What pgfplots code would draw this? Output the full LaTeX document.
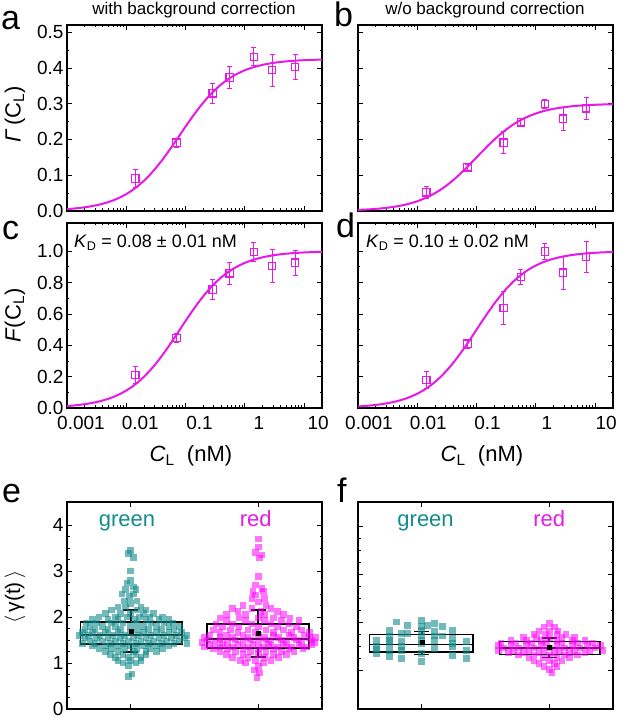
\documentclass[border=0pt]{standalone}
\usepackage{pgfplots}
\pgfplotsset{compat=1.18}
\usepackage{pgfplotstable}
\usepackage{fontspec}
\setmainfont{Liberation Sans}
\definecolor{mag}{RGB}{230,25,230}
\definecolor{magpt}{RGB}{255,0,255}
\definecolor{tealc}{RGB}{20,140,140}
\newcommand\fs[1]{\fontsize{#1}{#1}\selectfont}

\pgfplotstableread{
C ga gb fc fd
0.001 0.00525 0.00297 0.01235 0.00990
0.0012589 0.00658 0.00373 0.01549 0.01243
0.0015849 0.00826 0.00468 0.01943 0.01560
0.0019953 0.01034 0.00587 0.02433 0.01956
0.0025119 0.01294 0.00735 0.03044 0.02450
0.0031623 0.01616 0.00920 0.03803 0.03065
0.0039811 0.02015 0.01149 0.04740 0.03829
0.0050119 0.02506 0.01432 0.05896 0.04773
0.0063096 0.03107 0.01781 0.07310 0.05935
0.0079433 0.03839 0.02208 0.09032 0.07359
0.01 0.04722 0.02727 0.11111 0.09091
0.012589 0.05779 0.03354 0.13597 0.11181
0.015849 0.07027 0.04104 0.16535 0.13681
0.019953 0.08484 0.04990 0.19962 0.16634
0.025119 0.10156 0.06023 0.23896 0.20076
0.031623 0.12040 0.07208 0.28330 0.24025
0.039811 0.14122 0.08543 0.33228 0.28475
0.050119 0.16370 0.10016 0.38518 0.33386
0.063096 0.18740 0.11606 0.44093 0.38687
0.079433 0.21174 0.13281 0.49822 0.44269
0.1 0.23611 0.15000 0.55556 0.50000
0.12589 0.25987 0.16719 0.61145 0.55731
0.15849 0.28244 0.18394 0.66456 0.61313
0.19953 0.30337 0.19984 0.71380 0.66614
0.25119 0.32234 0.21458 0.75845 0.71525
0.31623 0.33919 0.22793 0.79810 0.75975
0.39811 0.35388 0.23977 0.83267 0.79924
0.50119 0.36650 0.25010 0.86235 0.83366
0.63096 0.37718 0.25896 0.88748 0.86319
0.79433 0.38611 0.26645 0.90850 0.88818
1 0.39352 0.27273 0.92593 0.90909
1.2589 0.39961 0.27792 0.94025 0.92641
1.5849 0.40458 0.28220 0.95195 0.94065
1.9953 0.40862 0.28568 0.96145 0.95227
2.5119 0.41188 0.28851 0.96913 0.96171
3.1623 0.41452 0.29081 0.97533 0.96935
3.9811 0.41663 0.29265 0.98030 0.97550
5.0119 0.41832 0.29413 0.98429 0.98044
6.3096 0.41968 0.29532 0.98748 0.98440
7.9433 0.42076 0.29627 0.99003 0.98757
10 0.42163 0.29703 0.99206 0.99010
12.589 0.42232 0.29764 0.99369 0.99212
15.849 0.42287 0.29812 0.99498 0.99373
20 0.42331 0.29851 0.99602 0.99502
}\curve

\pgfplotstableread{
x y ey
0.0142 0.091 0.025
0.0703 0.191 0.012
0.287 0.329 0.028
0.557 0.373 0.030
1.42 0.431 0.025
2.87 0.394 0.045
7.03 0.403 0.035
}\pa

\pgfplotstableread{
x y ey
0.0142 0.052 0.018
0.0703 0.122 0.008
0.287 0.191 0.030
0.557 0.248 0.012
1.42 0.299 0.012
2.87 0.258 0.032
7.03 0.287 0.031
}\pb

\pgfplotstableread{
x y ey
0.0142 0.210 0.055
0.0703 0.447 0.030
0.287 0.756 0.065
0.557 0.859 0.070
1.42 0.996 0.060
2.87 0.906 0.105
7.03 0.927 0.080
}\pc

\pgfplotstableread{
x y ey
0.0142 0.179 0.055
0.0703 0.410 0.030
0.287 0.639 0.107
0.557 0.835 0.050
1.42 0.998 0.050
2.87 0.863 0.105
7.03 0.964 0.100
}\pd

\pgfplotstableread{
x y
1.00 3.45
0.98 3.38
1.02 3.30
1.00 3.00
1.00 2.80
0.97 2.74
1.02 2.65
0.96 2.60
1.04 2.60
0.93 2.50
1.02 2.50
0.99 2.45
0.95 2.35
1.05 2.35
1.00 2.30
0.90 2.22
0.96 2.22
1.08 2.22
0.85 2.15
1.05 2.15
1.12 2.15
0.80 2.08
0.92 2.08
1.00 2.08
1.10 2.08
1.18 2.08
0.75 2.00
0.88 2.00
0.97 2.00
1.07 2.00
1.15 2.00
1.25 2.00
0.70 1.94
0.82 1.94
0.90 1.94
1.03 1.94
1.12 1.94
1.22 1.94
1.30 1.94
0.65 1.87
0.73 1.87
0.85 1.87
0.94 1.87
1.05 1.87
1.16 1.87
1.26 1.87
1.33 1.87
0.68 1.80
0.78 1.80
0.88 1.80
1.00 1.80
1.10 1.80
1.20 1.80
1.30 1.80
1.38 1.80
0.64 1.73
0.72 1.73
0.82 1.73
0.92 1.73
1.05 1.73
1.14 1.73
1.24 1.73
1.34 1.73
0.62 1.66
0.70 1.66
0.80 1.66
0.90 1.66
1.00 1.66
1.10 1.66
1.20 1.66
1.30 1.66
1.40 1.66
0.60 1.60
0.67 1.60
0.76 1.60
0.86 1.60
0.95 1.60
1.06 1.60
1.16 1.60
1.26 1.60
1.36 1.60
1.44 1.60
0.64 1.54
0.73 1.54
0.82 1.54
0.92 1.54
1.02 1.54
1.12 1.54
1.22 1.54
1.32 1.54
1.42 1.54
0.68 1.48
0.78 1.48
0.88 1.48
0.98 1.48
1.08 1.48
1.18 1.48
1.28 1.48
1.38 1.48
0.62 1.43
0.72 1.43
0.84 1.43
0.94 1.43
1.04 1.43
1.14 1.43
1.24 1.43
1.34 1.43
1.44 1.43
0.70 1.37
0.80 1.37
0.90 1.37
1.00 1.37
1.10 1.37
1.20 1.37
1.30 1.37
0.75 1.31
0.85 1.31
0.95 1.31
1.05 1.31
1.15 1.31
1.25 1.31
0.80 1.25
0.90 1.25
1.02 1.25
1.12 1.25
1.20 1.25
0.84 1.18
0.94 1.18
1.04 1.18
1.12 1.18
0.88 1.12
0.98 1.12
1.08 1.12
0.90 1.06
1.00 1.06
1.08 1.06
0.94 1.00
1.04 1.00
0.98 0.94
1.01 0.76
0.98 0.70
}\eg

\pgfplotstableread{
x y
2.00 3.70
2.00 3.52
1.98 3.40
2.03 3.35
2.01 3.28
2.00 2.88
1.98 2.70
2.03 2.62
1.96 2.55
2.04 2.55
1.98 2.48
1.95 2.40
2.05 2.40
2.00 2.33
1.88 2.25
2.06 2.25
1.80 2.18
1.95 2.18
2.10 2.18
1.84 2.12
2.02 2.12
2.15 2.12
1.75 2.05
1.90 2.05
2.05 2.05
2.20 2.05
1.70 1.98
1.85 1.98
2.00 1.98
2.12 1.98
2.25 1.98
1.75 1.92
1.90 1.92
2.05 1.92
2.18 1.92
2.32 1.92
1.67 1.85
1.80 1.85
1.95 1.85
2.10 1.85
2.24 1.85
1.72 1.78
1.85 1.78
2.00 1.78
2.15 1.78
2.30 1.78
1.65 1.72
1.78 1.72
1.92 1.72
2.06 1.72
2.20 1.72
2.34 1.72
1.70 1.66
1.84 1.66
1.98 1.66
2.12 1.66
2.26 1.66
2.40 1.66
1.62 1.60
1.75 1.60
1.88 1.60
2.00 1.60
2.12 1.60
2.24 1.60
2.36 1.60
1.58 1.55
1.70 1.55
1.80 1.55
1.92 1.55
2.05 1.55
2.16 1.55
2.28 1.55
2.40 1.55
2.45 1.55
1.60 1.50
1.70 1.50
1.82 1.50
1.94 1.50
2.06 1.50
2.18 1.50
2.30 1.50
2.42 1.50
1.56 1.45
1.66 1.45
1.76 1.45
1.88 1.45
2.00 1.45
2.10 1.45
2.22 1.45
2.34 1.45
2.44 1.45
1.62 1.40
1.72 1.40
1.84 1.40
1.96 1.40
2.08 1.40
2.20 1.40
2.32 1.40
2.42 1.40
1.58 1.35
1.70 1.35
1.80 1.35
1.92 1.35
2.04 1.35
2.15 1.35
2.26 1.35
2.38 1.35
1.65 1.30
1.76 1.30
1.88 1.30
2.00 1.30
2.12 1.30
2.24 1.30
2.35 1.30
1.70 1.24
1.82 1.24
1.94 1.24
2.06 1.24
2.18 1.24
2.28 1.24
1.75 1.18
1.88 1.18
2.00 1.18
2.12 1.18
2.22 1.18
1.80 1.12
1.92 1.12
2.05 1.12
2.16 1.12
1.86 1.06
1.98 1.06
2.10 1.06
1.90 1.00
2.04 1.00
2.00 0.92
1.97 0.85
2.01 0.78
1.99 0.68
}\er

\pgfplotstableread{
x y
0.647 1.62
0.647 1.50
0.647 1.35
0.647 1.45
0.749 1.83
0.749 1.70
0.749 1.56
0.749 1.41
0.749 1.29
0.749 1.62
0.804 2.01
0.843 1.77
0.843 1.60
0.843 1.41
0.843 1.25
0.843 1.50
0.890 1.93
0.890 1.77
1.000 2.04
1.000 1.91
1.000 1.72
1.000 1.56
1.000 1.35
1.000 1.19
1.000 1.62
1.000 1.83
1.047 1.93
1.102 1.97
1.102 1.81
1.102 1.62
1.102 1.46
1.102 1.72
1.165 1.91
1.165 1.72
1.243 1.83
1.243 1.66
1.243 1.50
1.243 1.31
1.243 1.56
1.353 1.60
1.353 1.41
1.353 1.25
}\fg

\pgfplotstableread{
x y
2.00 1.97
1.96 1.90
2.04 1.90
1.92 1.82
2.00 1.82
2.07 1.82
1.88 1.75
1.97 1.75
2.06 1.75
2.13 1.75
1.80 1.68
1.90 1.68
2.00 1.68
2.10 1.68
2.20 1.68
1.70 1.62
1.82 1.62
1.94 1.62
2.06 1.62
2.18 1.62
2.28 1.62
1.62 1.57
1.74 1.57
1.86 1.57
1.98 1.57
2.10 1.57
2.22 1.57
2.34 1.57
1.60 1.52
1.70 1.52
1.82 1.52
1.94 1.52
2.06 1.52
2.18 1.52
2.30 1.52
2.40 1.52
1.64 1.47
1.76 1.47
1.88 1.47
2.00 1.47
2.12 1.47
2.24 1.47
2.36 1.47
1.60 1.42
1.72 1.42
1.84 1.42
1.96 1.42
2.08 1.42
2.20 1.42
2.32 1.42
2.42 1.42
1.68 1.37
1.80 1.37
1.92 1.37
2.04 1.37
2.16 1.37
2.28 1.37
1.76 1.32
1.88 1.32
2.00 1.32
2.12 1.32
2.22 1.32
1.84 1.26
1.95 1.26
2.06 1.26
2.16 1.26
1.88 1.20
2.00 1.20
2.10 1.20
1.92 1.14
2.04 1.14
1.96 1.08
2.06 1.08
2.00 1.02
2.02 0.96
}\fr

\begin{document}
\begin{tikzpicture}
\useasboundingbox (0pt,0pt) rectangle (617pt,718pt);

% ---- a ----
\begin{axis}[at={(67pt,507pt)}, anchor=south west, scale only axis, width=255pt, height=186pt,
  xmode=log, xmin=0.001, xmax=20,
  xtick={0.001,0.01,0.1,1,10}, xticklabels={},
  minor xtick={0.002,0.003,0.004,0.005,0.006,0.007,0.008,0.009,0.02,0.03,0.04,0.05,0.06,0.07,0.08,0.09,0.2,0.3,0.4,0.5,0.6,0.7,0.8,0.9,2,3,4,5,6,7,8,9,20},
  ymin=0, ymax=0.52, ytick={0,0.1,0.2,0.3,0.4,0.5}, minor y tick num=1,
  yticklabels={0.0,0.1,0.2,0.3,0.4,0.5},
  axis line style={line width=1.2pt}, tick style={black, line width=0.8pt},
  major tick length=5pt, minor tick length=2.5pt, tick align=inside,
  xtick pos=both, ytick pos=both,
  tick label style={font=\fs{19}},
  ylabel={\textit{Γ}\,(C\textsubscript{L})},
  ylabel style={font=\fs{22}, at={(axis description cs:-0.204,0.52)}, anchor=center}]
\addplot[mag, line width=2pt, no marks] table[x=C, y=ga] {\curve};
\addplot[mag, only marks, mark=square, mark size=3.7pt, mark options={line width=1.2pt},
  error bars/y dir=both, error bars/y explicit,
  error bars/error bar style={line width=0.9pt, mag},
  error bars/error mark options={rotate=90, mark size=2.5pt, line width=0.9pt, mag}]
  table[x=x, y=y, y error=ey] {\pa};
\end{axis}

% ---- b ----
\begin{axis}[at={(358pt,507pt)}, anchor=south west, scale only axis, width=255pt, height=186pt,
  xmode=log, xmin=0.001, xmax=20,
  xtick={0.001,0.01,0.1,1,10}, xticklabels={},
  minor xtick={0.002,0.003,0.004,0.005,0.006,0.007,0.008,0.009,0.02,0.03,0.04,0.05,0.06,0.07,0.08,0.09,0.2,0.3,0.4,0.5,0.6,0.7,0.8,0.9,2,3,4,5,6,7,8,9,20},
  ymin=0, ymax=0.52, ytick={0,0.1,0.2,0.3,0.4,0.5}, minor y tick num=1,
  yticklabels={},
  axis line style={line width=1.2pt}, tick style={black, line width=0.8pt},
  major tick length=5pt, minor tick length=2.5pt, tick align=inside,
  xtick pos=both, ytick pos=both]
\addplot[mag, line width=2pt, no marks] table[x=C, y=gb] {\curve};
\addplot[mag, only marks, mark=square, mark size=3.7pt, mark options={line width=1.2pt},
  error bars/y dir=both, error bars/y explicit,
  error bars/error bar style={line width=0.9pt, mag},
  error bars/error mark options={rotate=90, mark size=2.5pt, line width=0.9pt, mag}]
  table[x=x, y=y, y error=ey] {\pb};
\end{axis}

% ---- c ----
\begin{axis}[at={(67pt,310pt)}, anchor=south west, scale only axis, width=255pt, height=185pt,
  xmode=log, xmin=0.001, xmax=20,
  xtick={0.001,0.01,0.1,1,10}, xticklabels={0.001,0.01,0.1,1,10},
  minor xtick={0.002,0.003,0.004,0.005,0.006,0.007,0.008,0.009,0.02,0.03,0.04,0.05,0.06,0.07,0.08,0.09,0.2,0.3,0.4,0.5,0.6,0.7,0.8,0.9,2,3,4,5,6,7,8,9,20},
  ymin=0, ymax=1.18, ytick={0,0.2,0.4,0.6,0.8,1.0}, minor y tick num=1,
  yticklabels={0.0,0.2,0.4,0.6,0.8,1.0},
  axis line style={line width=1.2pt}, tick style={black, line width=0.8pt},
  major tick length=5pt, minor tick length=2.5pt, tick align=inside,
  xtick pos=both, ytick pos=both,
  tick label style={font=\fs{19}},
  xticklabel style={yshift=-5pt, xshift=14pt},
  ylabel={\textit{F}(C\textsubscript{L})},
  ylabel style={font=\fs{22}, at={(axis description cs:-0.204,0.5)}, anchor=center},
  xlabel={\textit{C}\textsubscript{L}\ \ (nM)},
  xlabel style={font=\fs{22}, at={(axis description cs:0.486,0)}, anchor=base, yshift=-54pt}]
\addplot[mag, line width=2pt, no marks] table[x=C, y=fc] {\curve};
\addplot[mag, only marks, mark=square, mark size=3.7pt, mark options={line width=1.2pt},
  error bars/y dir=both, error bars/y explicit,
  error bars/error bar style={line width=0.9pt, mag},
  error bars/error mark options={rotate=90, mark size=2.5pt, line width=0.9pt, mag}]
  table[x=x, y=y, y error=ey] {\pc};
\end{axis}

% ---- d ----
\begin{axis}[at={(358pt,310pt)}, anchor=south west, scale only axis, width=255pt, height=185pt,
  xmode=log, xmin=0.001, xmax=20,
  xtick={0.001,0.01,0.1,1,10}, xticklabels={0.001,0.01,0.1,1,10},
  minor xtick={0.002,0.003,0.004,0.005,0.006,0.007,0.008,0.009,0.02,0.03,0.04,0.05,0.06,0.07,0.08,0.09,0.2,0.3,0.4,0.5,0.6,0.7,0.8,0.9,2,3,4,5,6,7,8,9,20},
  ymin=0, ymax=1.18, ytick={0,0.2,0.4,0.6,0.8,1.0}, minor y tick num=1,
  yticklabels={},
  axis line style={line width=1.2pt}, tick style={black, line width=0.8pt},
  major tick length=5pt, minor tick length=2.5pt, tick align=inside,
  xtick pos=both, ytick pos=both,
  tick label style={font=\fs{19}},
  xticklabel style={yshift=-5pt, xshift=11pt},
  xlabel={\textit{C}\textsubscript{L}\ \ (nM)},
  xlabel style={font=\fs{22}, at={(axis description cs:0.486,0)}, anchor=base, yshift=-54pt}]
\addplot[mag, line width=2pt, no marks] table[x=C, y=fd] {\curve};
\addplot[mag, only marks, mark=square, mark size=3.7pt, mark options={line width=1.2pt},
  error bars/y dir=both, error bars/y explicit,
  error bars/error bar style={line width=0.9pt, mag},
  error bars/error mark options={rotate=90, mark size=2.5pt, line width=0.9pt, mag}]
  table[x=x, y=y, y error=ey] {\pd};
\end{axis}

% ---- e ----
\begin{axis}[at={(67pt,9pt)}, anchor=south west, scale only axis, width=255pt, height=207pt,
  xmin=0.5, xmax=2.5, xtick={1,2}, xticklabels={},
  ymin=0, ymax=4.5, ytick={0,1,2,3,4}, minor y tick num=3,
  axis line style={line width=1.2pt}, tick style={black, line width=0.8pt},
  major tick length=5pt, minor tick length=2.5pt, tick align=inside,
  xtick pos=both, ytick pos=both,
  tick label style={font=\fs{19}},
  yticklabel style={/pgf/number format/assume math mode=true},
  ylabel={$\langle$\,γ(t)\,$\rangle$},
  ylabel style={font=\fs{21}, at={(axis description cs:-0.204,0.54)}, anchor=center}]
\addplot[tealc, only marks, mark=square*, mark size=3.3pt, mark options={fill=tealc, draw opacity=0, fill opacity=0.6}] table[x=x, y=y] {\eg};
\addplot[magpt, only marks, mark=square*, mark size=3.3pt, mark options={fill=magpt, draw opacity=0, fill opacity=0.55}] table[x=x, y=y] {\er};
\addplot[black, line width=1.6pt, no marks] coordinates {(0.605,1.41) (1.40,1.41) (1.40,1.89) (0.605,1.89) (0.605,1.41)};
\addplot[black, line width=1.6pt, no marks] coordinates {(0.605,1.61) (1.40,1.61)};
\addplot[black, line width=1.6pt, no marks] coordinates {(1,1.89) (1,2.15)};
\addplot[black, line width=1.6pt, no marks] coordinates {(1,1.41) (1,1.24)};
\addplot[black, line width=1.6pt, no marks] coordinates {(0.94,2.15) (1.06,2.15)};
\addplot[black, line width=1.6pt, no marks] coordinates {(0.94,1.24) (1.06,1.24)};
\addplot[black, only marks, mark=square*, mark size=2pt] coordinates {(1,1.70)};
\addplot[black, line width=1.6pt, no marks] coordinates {(1.60,1.33) (2.40,1.33) (2.40,1.85) (1.60,1.85) (1.60,1.33)};
\addplot[black, line width=1.6pt, no marks] coordinates {(1.60,1.52) (2.40,1.52)};
\addplot[black, line width=1.6pt, no marks] coordinates {(2,1.85) (2,2.15)};
\addplot[black, line width=1.6pt, no marks] coordinates {(2,1.33) (2,1.13)};
\addplot[black, line width=1.6pt, no marks] coordinates {(1.94,2.15) (2.06,2.15)};
\addplot[black, line width=1.6pt, no marks] coordinates {(1.94,1.13) (2.06,1.13)};
\addplot[black, only marks, mark=square*, mark size=2pt] coordinates {(2,1.65)};
\node[anchor=base, font=\fs{22}, text=tealc] at (axis cs:0.97,3.96) {green};
\node[anchor=base, font=\fs{22}, text=mag] at (axis cs:1.98,3.96) {red};
\end{axis}

% ---- f ----
\begin{axis}[at={(358pt,9pt)}, anchor=south west, scale only axis, width=255pt, height=207pt,
  xmin=0.5, xmax=2.5, xtick={1,2}, xticklabels={},
  ymin=0.2, ymax=4.5, ytick={1,2,3,4}, minor y tick num=3, yticklabels={},
  axis line style={line width=1.2pt}, tick style={black, line width=0.8pt},
  major tick length=5pt, minor tick length=2.5pt, tick align=inside,
  xtick pos=both, ytick pos=both]
\addplot[tealc, only marks, mark=square*, mark size=3.3pt, mark options={fill=tealc, draw opacity=0, fill opacity=0.6}] table[x=x, y=y] {\fg};
\addplot[magpt, only marks, mark=square*, mark size=3.3pt, mark options={fill=magpt, draw opacity=0, fill opacity=0.55}] table[x=x, y=y] {\fr};
\addplot[black, line width=1.6pt, no marks] coordinates {(0.59,1.39) (1.40,1.39) (1.40,1.75) (0.59,1.75) (0.59,1.39)};
\addplot[black, line width=1.6pt, no marks] coordinates {(0.59,1.54) (1.40,1.54)};
\addplot[black, line width=1.6pt, no marks] coordinates {(1,1.75) (1,1.81)};
\addplot[black, line width=1.6pt, no marks] coordinates {(1,1.39) (1,1.33)};
\addplot[black, line width=1.6pt, no marks] coordinates {(0.94,1.81) (1.06,1.81)};
\addplot[black, line width=1.6pt, no marks] coordinates {(0.94,1.33) (1.06,1.33)};
\addplot[black, only marks, mark=square*, mark size=2pt] coordinates {(1,1.58)};
\addplot[black, line width=1.6pt, no marks] coordinates {(1.61,1.33) (2.40,1.33) (2.40,1.60) (1.61,1.60) (1.61,1.33)};
\addplot[black, line width=1.6pt, no marks] coordinates {(1.61,1.47) (2.40,1.47)};
\addplot[black, line width=1.6pt, no marks] coordinates {(2,1.60) (2,1.68)};
\addplot[black, line width=1.6pt, no marks] coordinates {(2,1.33) (2,1.27)};
\addplot[black, line width=1.6pt, no marks] coordinates {(1.94,1.68) (2.06,1.68)};
\addplot[black, line width=1.6pt, no marks] coordinates {(1.94,1.27) (2.06,1.27)};
\addplot[black, only marks, mark=square*, mark size=2pt] coordinates {(2,1.48)};
\node[anchor=base, font=\fs{22}, text=tealc] at (axis cs:1.03,4.0) {green};
\node[anchor=base, font=\fs{22}, text=mag] at (axis cs:2.0,4.0) {red};
\end{axis}

% ---- titles, annotations, panel letters ----
\node[anchor=base, font=\fs{17}] at (194pt,703pt) {with background correction};
\node[anchor=base, font=\fs{17}] at (485pt,703pt) {w/o background correction};
\node[anchor=base west, inner sep=0pt, font=\fs{18}] at (74pt,470pt) {\textit{K}\textsubscript{D} = 0.08 ± 0.01 nM};
\node[anchor=base west, inner sep=0pt, font=\fs{18}] at (366pt,470pt) {\textit{K}\textsubscript{D} = 0.10 ± 0.02 nM};
\node[anchor=base west, inner sep=0pt, font=\fs{34}] at (1pt,688pt) {a};
\node[anchor=base west, inner sep=0pt, font=\fs{34}] at (334pt,691pt) {b};
\node[anchor=base west, inner sep=0pt, font=\fs{34}] at (2pt,478pt) {c};
\node[anchor=base west, inner sep=0pt, font=\fs{34}] at (336pt,480pt) {d};
\node[anchor=base west, inner sep=0pt, font=\fs{34}] at (2pt,215pt) {e};
\node[anchor=base west, inner sep=0pt, font=\fs{34}] at (337pt,215pt) {f};
\end{tikzpicture}
\end{document}
